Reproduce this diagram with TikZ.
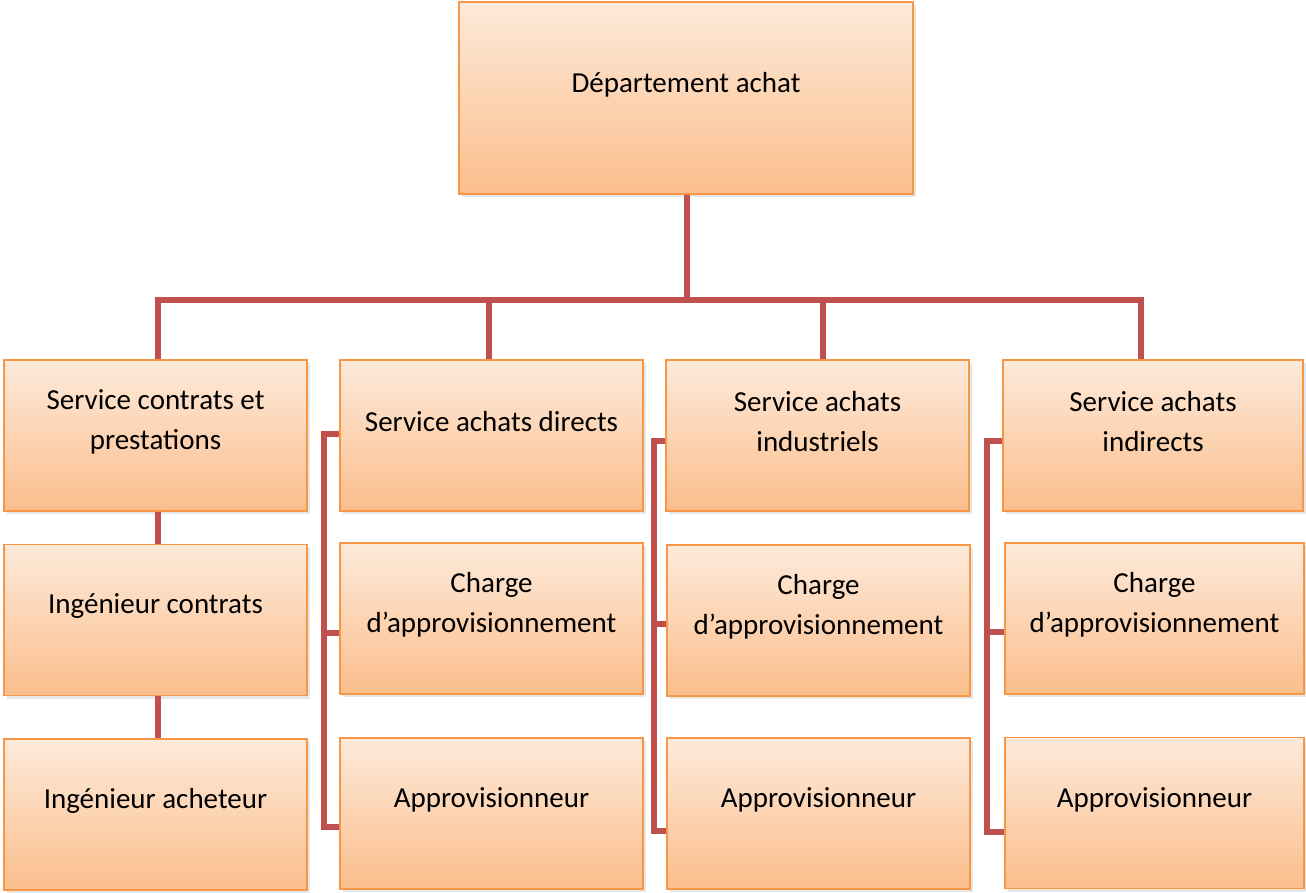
\documentclass[tikz,border=0pt]{standalone}
\usepackage{fontspec}
\setmainfont{Carlito}
\usetikzlibrary{shadows}

\definecolor{boxedge}{RGB}{247,150,70}
\definecolor{boxtop}{RGB}{253,234,218}
\definecolor{boxbot}{RGB}{251,190,140}
\definecolor{linkred}{RGB}{192,80,77}
\definecolor{shadowgrey}{RGB}{208,208,208}

\begin{document}
\begin{tikzpicture}[x=1pt,y=-1pt,
  orgbox/.style={rectangle, draw=boxedge, line width=1.6pt,
    top color=boxtop, bottom color=boxbot,
    minimum width=303pt, minimum height=151pt, inner sep=0pt,
    drop shadow={shadow xshift=2.5pt, shadow yshift=-3pt, fill=shadowgrey}},
  caption/.style={font=\fontsize{29}{40}\selectfont, align=center, inner sep=0pt, text=black},
  conn/.style={draw=linkred, line width=5.5pt, line join=miter}]
\useasboundingbox (0,0) rectangle (1306,893);

% head of the department
\node[orgbox, minimum width=454pt, minimum height=192pt,
      label={[caption, yshift=13.5pt]center:Département achat}] (top) at (686,98) {};

% services
\node[orgbox, label={[caption, yshift=13.5pt]center:Service contrats et\\prestations}] (s1) at (155.5,435.5) {};
\node[orgbox, label={[caption, yshift=13.5pt]center:Service achats directs}] (s2) at (491.5,435.5) {};
\node[orgbox, label={[caption, yshift=13.5pt]center:Service achats\\industriels}] (s3) at (817.5,435.5) {};
\node[orgbox, minimum width=300pt, label={[caption, yshift=13.5pt]center:Service achats\\indirects}] (s4) at (1153,435.5) {};

% second level
\node[orgbox, label={[caption, yshift=13.5pt]center:Ingénieur contrats}] (i1) at (155.5,620) {};
\node[orgbox, label={[caption, yshift=13.5pt]center:Charge\\d’approvisionnement}] (c2) at (491.5,618.5) {};
\node[orgbox, label={[caption, yshift=13.5pt]center:Charge\\d’approvisionnement}] (c3) at (818.5,620.5) {};
\node[orgbox, minimum width=299pt, label={[caption, yshift=13.5pt]center:Charge\\d’approvisionnement}] (c4) at (1154.5,618.5) {};

% third level
\node[orgbox, label={[caption, yshift=13.5pt]center:Ingénieur acheteur}] (a1) at (155.5,814.5) {};
\node[orgbox, label={[caption, yshift=13.5pt]center:Approvisionneur}] (a2) at (491.5,813.5) {};
\node[orgbox, label={[caption, yshift=13.5pt]center:Approvisionneur}] (a3) at (818.5,813.5) {};
\node[orgbox, minimum width=299pt, label={[caption, yshift=13.5pt]center:Approvisionneur}] (a4) at (1154.5,813) {};

% bus joints
\coordinate (d1) at (158,300);
\coordinate (d2) at (489,300);
\coordinate (d3) at (823,300);
\coordinate (d4) at (1141,300);
\coordinate (dt) at (687,300);

% bracket corners
\coordinate (k2t) at (324,434); \coordinate (k2m) at (324,633); \coordinate (k2b) at (324,827);
\coordinate (k3t) at (654,441); \coordinate (k3m) at (654,624); \coordinate (k3b) at (654,831);
\coordinate (k4t) at (987,441); \coordinate (k4m) at (987,632); \coordinate (k4b) at (987,832);

% top level to bus, bus to the services
\draw[conn] (top.south -| dt) -- (dt);
\draw[conn] (s1.north -| d1) -- (d1) -- (d4) -- (s4.north -| d4);
\draw[conn] (d2) -- (s2.north -| d2);
\draw[conn] (d3) -- (s3.north -| d3);

% first column chain
\draw[conn] (s1.south -| d1) -- (i1.north -| d1);
\draw[conn] (i1.south -| d1) -- (a1.north -| d1);

% brackets of the other columns
\draw[conn] (s2.west |- k2t) -- (k2t) -- (k2b) -- (a2.west |- k2b);
\draw[conn] (k2m) -- (c2.west |- k2m);
\draw[conn] (s3.west |- k3t) -- (k3t) -- (k3b) -- (a3.west |- k3b);
\draw[conn] (k3m) -- (c3.west |- k3m);
\draw[conn] (s4.west |- k4t) -- (k4t) -- (k4b) -- (a4.west |- k4b);
\draw[conn] (k4m) -- (c4.west |- k4m);
\end{tikzpicture}
\end{document}
